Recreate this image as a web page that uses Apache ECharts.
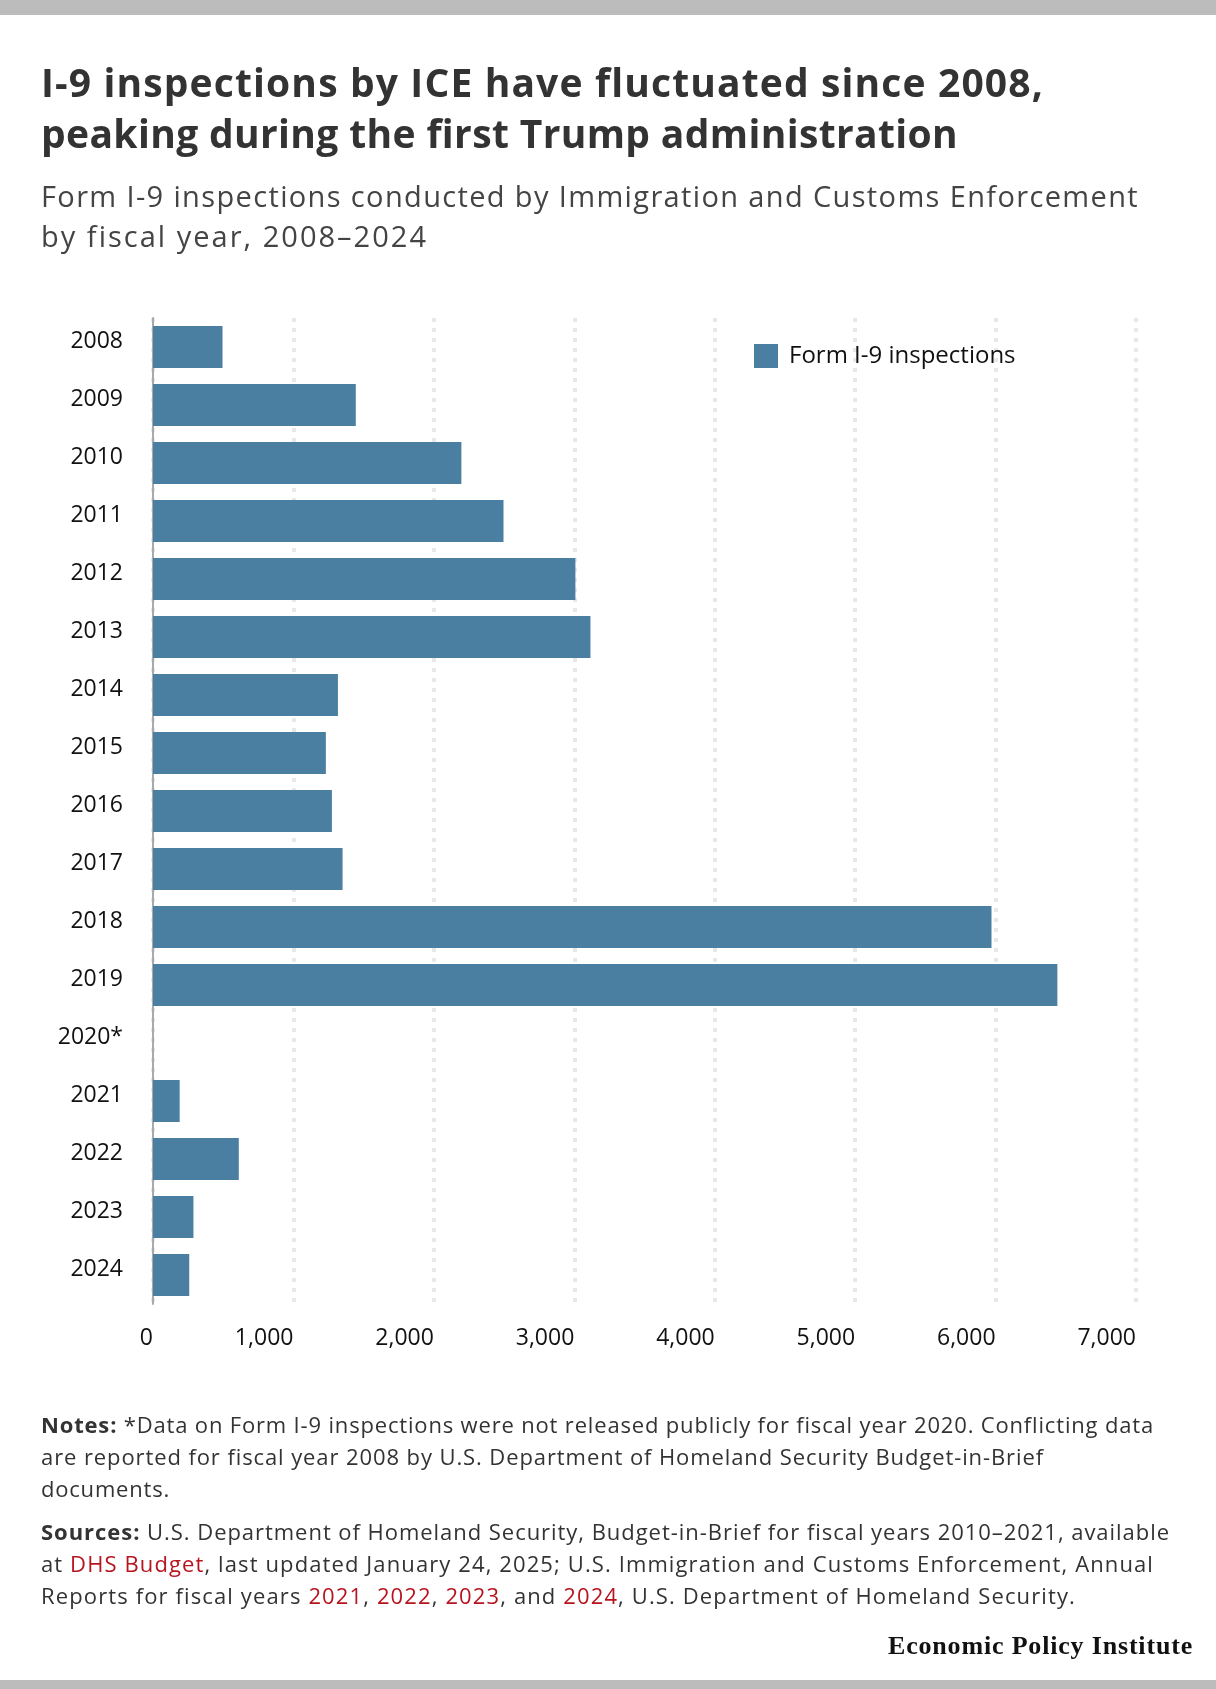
<!DOCTYPE html>
<html>
<head>
<meta charset="utf-8">
<script src="https://cdn.jsdelivr.net/npm/echarts@6/dist/echarts.min.js"></script>
<style>
html,body{margin:0;padding:0;background:#fff;}
body{width:1216px;height:1689px;position:relative;overflow:hidden;font-family:"Open Sans","Noto Sans",sans-serif;}
#chart{position:absolute;left:0;top:0;width:1216px;height:1689px;}
.barTop{position:absolute;left:0;top:0;width:1216px;height:15px;background:#bcbcbc;}
.barBot{position:absolute;left:0;top:1680px;width:1216px;height:9px;background:#bcbcbc;}
.t{position:absolute;left:41px;white-space:nowrap;}
.title{font-weight:700;font-size:39px;line-height:51px;color:#333;}
.sub{font-size:29px;line-height:40px;color:#444;}
.note{font-size:22px;line-height:32px;color:#333;}
.note b{font-weight:700;}
.red{color:#b8141f;}
.logo{position:absolute;left:888px;top:1631px;white-space:nowrap;font-family:"Liberation Serif","DejaVu Serif",serif;font-weight:700;font-size:26px;line-height:30px;color:#111;}
</style>
</head>
<body>
<div class="barTop"></div>
<div id="chart"></div>

<div class="t title" style="top:56px"><span class="fit" data-w="1003">I-9 inspections by ICE have fluctuated since 2008,</span></div>
<div class="t title" style="top:107px"><span class="fit" data-w="917">peaking during the first Trump administration</span></div>

<div class="t sub" style="top:176px"><span class="fit" data-w="1098">Form I-9 inspections conducted by Immigration and Customs Enforcement</span></div>
<div class="t sub" style="top:216px"><span class="fit" data-w="387">by fiscal year, 2008–2024</span></div>

<div class="t note" style="top:1408px"><span class="fit" data-w="1113"><b>Notes:</b> *Data on Form I-9 inspections were not released publicly for fiscal year 2020. Conflicting data</span></div>
<div class="t note" style="top:1440px"><span class="fit" data-w="1003">are reported for fiscal year 2008 by U.S. Department of Homeland Security Budget-in-Brief</span></div>
<div class="t note" style="top:1472px"><span class="fit" data-w="129">documents.</span></div>

<div class="t note" style="top:1515px"><span class="fit" data-w="1129"><b>Sources:</b> U.S. Department of Homeland Security, Budget-in-Brief for fiscal years 2010–2021, available</span></div>
<div class="t note" style="top:1547px"><span class="fit" data-w="1113">at <span class="red">DHS Budget</span>, last updated January 24, 2025; U.S. Immigration and Customs Enforcement, Annual</span></div>
<div class="t note" style="top:1579px"><span class="fit" data-w="1035">Reports for fiscal years <span class="red">2021</span>, <span class="red">2022</span>, <span class="red">2023</span>, and <span class="red">2024</span>, U.S. Department of Homeland Security.</span></div>

<div class="logo"><span class="fit" data-w="305">Economic Policy Institute</span></div>
<div class="barBot"></div>

<script>
// ---- data ----
const years = ['2008','2009','2010','2011','2012','2013','2014','2015','2016','2017','2018','2019','2020*','2021','2022','2023','2024'];
const inspections = [495, 1444, 2196, 2496, 3008, 3115, 1317, 1231, 1274, 1350, 5971, 6440, null, 190, 611, 288, 258];
const seriesName = 'Form I-9 inspections';
const xMin = 0, xMax = 7000, xStep = 1000;

// ---- fit text widths ----
document.querySelectorAll('.fit').forEach(function(el){
  const target = parseFloat(el.getAttribute('data-w'));
  const w = el.getBoundingClientRect().width;
  const n = el.textContent.length;
  el.style.letterSpacing = ((target - w) / n) + 'px';
});

// ---- chart ----
const chart = echarts.init(document.getElementById('chart'), null, {renderer: 'canvas'});
const fontFam = '"Open Sans", "Noto Sans", sans-serif';
chart.setOption({
  animation: false,
  backgroundColor: 'transparent',
  grid: {left: 153, top: 318, right: 80, bottom: 385, containLabel: false},
  legend: {
    show: true,
    left: 754, top: 344, padding: 0,
    icon: 'rect', itemWidth: 24, itemHeight: 24,
    textStyle: {fontFamily: fontFam, fontSize: 24, color: '#111', padding: [0,0,0,6]},
    data: [seriesName]
  },
  xAxis: {
    type: 'value', min: xMin, max: xMax, interval: xStep,
    axisLine: {show: false}, axisTick: {show: false},
    splitLine: {show: true, lineStyle: {color: '#e8e8e8', width: 4, type: [4, 6]}},
    axisLabel: {
      fontFamily: fontFam, fontSize: 23, color: '#111', align: 'right', margin: 23,
      formatter: function(v){ return v.toLocaleString('en-US'); }
    }
  },
  yAxis: {
    type: 'category', data: years, inverse: true,
    axisLine: {show: true, lineStyle: {color: '#aaaaaa', width: 2}},
    axisTick: {show: false},
    splitLine: {show: false},
    axisLabel: {fontFamily: fontFam, fontSize: 23, color: '#111', margin: 30, verticalAlign: 'bottom', lineHeight: 12}
  },
  series: [{
    name: seriesName, type: 'bar', data: inspections,
    barCategoryGap: '28%',
    itemStyle: {color: '#4a7fa1'}
  }]
});
</script>
</body>
</html>
